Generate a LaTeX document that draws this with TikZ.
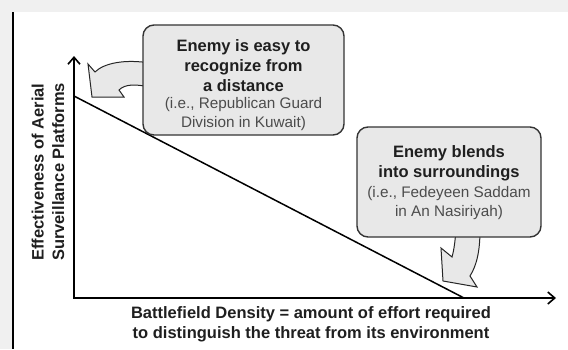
\documentclass[tikz,border=0pt]{standalone}
\usepackage{fontspec}
\setmainfont{Liberation Sans}
\usetikzlibrary{arrows.meta, positioning}

\begin{document}
\begin{tikzpicture}[x=1pt, y=-1pt,
  axis/.style={line width=2pt, line join=miter,
    {Straight Barb[length=7pt, width=12pt, line width=1.6pt]}-{Straight Barb[length=7pt, width=12pt, line width=1.6pt]}},
  callout/.style={draw=black!80, line width=1.4pt, fill=black!9, rounded corners=11pt, inner sep=0pt},
  bendarrow/.style={draw=black!85, line width=1pt, fill=black!9, line join=miter},
  headtext/.style={font=\fontsize{16.5}{20}\selectfont\bfseries, text=black!88, align=center, inner sep=0pt},
  notetext/.style={font=\fontsize{15.3}{19}\selectfont, text=black!70, align=center, inner sep=0pt},
  axislabel/.style={font=\fontsize{16.5}{20.5}\selectfont\bfseries, text=black!88, align=center, inner sep=0pt}]

  % Cadre de la page
  \useasboundingbox (0,0) rectangle (568,349);
  \fill[black!6] (0,0) rectangle (568,349);
  \fill[white] (14,12) rectangle (568,349);
  \draw[line width=2pt] (13,12) -- (13,349);

  % Axes et droite
  \coordinate (origin) at (74,298);
  \coordinate (ytop) at (74,56);
  \coordinate (xend) at (556,298);
  \coordinate (hi) at (74,96);
  \coordinate (lo) at (464,298);
  \draw[line width=1.5pt] (hi) -- (lo);
  \draw[axis] (ytop) -- (origin) -- (xend);

  % Titres des axes
  \node[axislabel, rotate=90] (ylabel) at (48,172) {Effectiveness of Aerial\\Surveillance Platforms};
  \node[axislabel] (xlabel) at (311,324.5) {Battlefield Density = amount of effort required\\to distinguish the threat from its environment};

  % Fleches courbes
  \filldraw[bendarrow] (150,63) .. controls (125,59) and (104,63) .. (95,72)
    -- (88,64) -- (92,97) -- (124,97) -- (119,90)
    .. controls (125,84) and (135,84) .. (150,87) -- cycle;
  \filldraw[bendarrow] (456,230) .. controls (455,242) and (454,250) .. (452,257)
    -- (441,248) -- (443,281) -- (477,287) -- (470,276)
    .. controls (477,265) and (480,250) .. (480,230) -- cycle;

  % Bulle du haut
  \node[callout, minimum width=201pt, minimum height=110pt] (easy) at (243.5,80) {};
  \node[headtext] (easyhead) at (243.5,65.5) {Enemy is easy to\\recognize from\\a distance};
  \node[notetext] (easynote) at (243.5,114) {(i.e., Republican Guard\\Division in Kuwait)};

  % Bulle du bas
  \node[callout, minimum width=184pt, minimum height=110pt] (blend) at (449,182) {};
  \node[headtext] (blendhead) at (449,163.5) {Enemy blends\\into surroundings};
  \node[notetext] (blendnote) at (449,203.5) {(i.e., Fedeyeen Saddam\\in An Nasiriyah)};
\end{tikzpicture}
\end{document}
